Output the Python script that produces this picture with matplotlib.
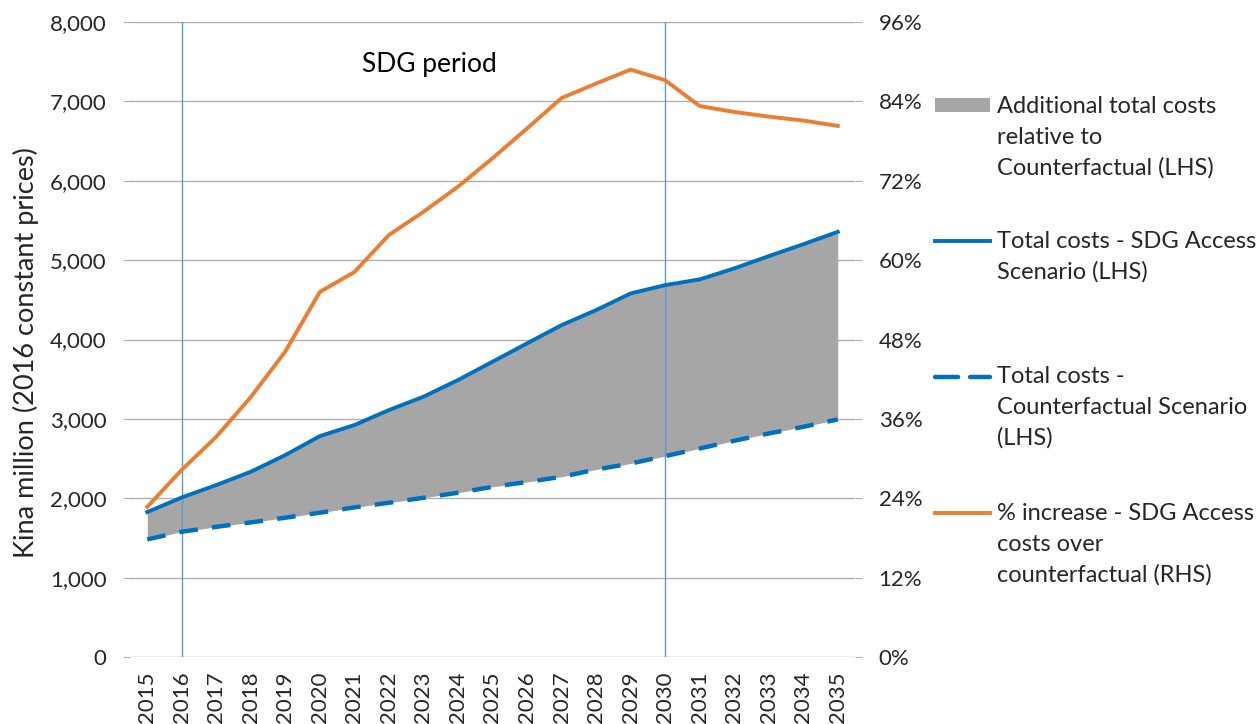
import matplotlib
matplotlib.use("Agg")
import matplotlib.pyplot as plt
from matplotlib.lines import Line2D
from matplotlib.patches import Rectangle
from matplotlib.ticker import FuncFormatter, FixedLocator

# ---- data ----
years = list(range(2015, 2036))
sdg_access = [1826, 2010, 2166, 2334, 2544, 2783, 2922, 3111, 3279, 3489, 3720,
              3951, 4181, 4370, 4580, 4685, 4757, 4895, 5050, 5200, 5356]
counterfactual = [1482, 1578, 1640, 1696, 1755, 1818, 1885, 1943, 2006, 2069, 2144,
                  2205, 2270, 2362, 2437, 2531, 2627, 2724, 2816, 2900, 2993]
pct_increase = [22.7, 28.3, 33.3, 39.3, 46.2, 55.2, 58.2, 63.8, 67.3, 71.1, 75.4,
                79.9, 84.5, 86.7, 88.8, 87.2, 83.3, 82.4, 81.7, 81.1, 80.3]
left_ticks = [0, 1000, 2000, 3000, 4000, 5000, 6000, 7000, 8000]
right_ticks = [0, 12, 24, 36, 48, 60, 72, 84, 96]
sdg_start, sdg_end = 2016, 2030

legend_labels = [
    ["Additional total costs", "relative to", "Counterfactual (LHS)"],
    ["Total costs - SDG Access", "Scenario (LHS)"],
    ["Total costs -", "Counterfactual Scenario", "(LHS)"],
    ["% increase - SDG Access", "costs over", "counterfactual (RHS)"],
]

BLUE = "#0070C0"
ORANGE = "#ED7D31"
GREY = "#A6A6A6"
VLINE = "#5B9BD5"
GRID = "#B0B0B0"
TXT = "#262626"

plt.rcParams['font.family'] = ['Lato', 'DejaVu Sans']
FS = 16
LFS = 17

W, H = 1257, 724
fig = plt.figure(figsize=(W / 100, H / 100), dpi=100)

def fx(px):
    return px / W

def fy(py):
    return 1 - py / H

x0, x1, y0, y1 = 130, 855, 22, 657
ax = fig.add_axes([fx(x0), fy(y1), fx(x1) - fx(x0), fy(y0) - fy(y1)])
idx = list(range(len(years)))

ax.set_xlim(-0.5, len(years) - 0.5)
ax.set_ylim(0, 8000)
ax.yaxis.set_major_locator(FixedLocator(left_ticks))
ax.yaxis.set_major_formatter(FuncFormatter(lambda v, p: f"{int(v):,}"))
ax.set_xticks(idx)
ax.set_xticklabels([str(y) for y in years], rotation=90)
ax.grid(axis='y', color=GRID, linewidth=1.0)
ax.set_axisbelow(True)
for s in ax.spines.values():
    s.set_visible(False)
ax.tick_params(axis='y', length=5, color=GRID, pad=12, labelsize=FS, labelcolor=TXT)
ax.tick_params(axis='x', length=0, pad=10.5, labelsize=FS, labelcolor=TXT)
ax.set_ylabel("Kina million (2016 constant prices)", fontsize=19.5, color=TXT)
ax.yaxis.set_label_coords(-0.126, 0.479)

ax.fill_between(idx, counterfactual, sdg_access, color=GREY, linewidth=0, zorder=1)
for yr in (sdg_start, sdg_end):
    ax.axvline(years.index(yr), color=VLINE, linewidth=1.0, zorder=2)
ax.plot(idx, sdg_access, color=BLUE, linewidth=2.8, zorder=3)
ax.plot(idx, counterfactual, color=BLUE, linewidth=3.2, zorder=3,
        dashes=(4.2, 3.2), dash_capstyle='butt')

ax2 = ax.twinx()
ax2.set_ylim(0, 96)
ax2.yaxis.set_major_locator(FixedLocator(right_ticks))
ax2.yaxis.set_major_formatter(FuncFormatter(lambda v, p: f"{int(v)}%"))
for s in ax2.spines.values():
    s.set_visible(False)
ax2.tick_params(axis='y', length=5, color=GRID, pad=12, labelsize=FS, labelcolor=TXT)
ax2.plot(idx, pct_increase, color=ORANGE, linewidth=2.8, zorder=4)

ax.text(8.16, 7470, "SDG period", fontsize=19, color='black',
        ha='center', va='center')

# ---- legend (manual, right side) ----
lx0, lx1, tx = 935, 990, 997
line_gap = 31
starts = [113, 248, 383, 520]
handle_y = [105, 241, 377, 513]
fig.add_artist(Rectangle((fx(lx0), fy(112)), fx(lx1) - fx(lx0), fy(98) - fy(112),
                         transform=fig.transFigure, color=GREY, linewidth=0))
fig.add_artist(Line2D([fx(lx0), fx(lx1)], [fy(handle_y[1])] * 2, transform=fig.transFigure,
                      color=BLUE, linewidth=2.8))
fig.add_artist(Line2D([fx(lx0), fx(lx1)], [fy(handle_y[2])] * 2, transform=fig.transFigure,
                      color=BLUE, linewidth=3.2, dashes=(5.2, 2.7), dash_capstyle='round'))
fig.add_artist(Line2D([fx(lx0), fx(lx1)], [fy(handle_y[3])] * 2, transform=fig.transFigure,
                      color=ORANGE, linewidth=2.8))
for lines, base in zip(legend_labels, starts):
    for k, t in enumerate(lines):
        fig.text(fx(tx), fy(base + k * line_gap), t, fontsize=LFS, color=TXT,
                 ha='left', va='baseline')

fig.savefig("out.png", dpi=100)
